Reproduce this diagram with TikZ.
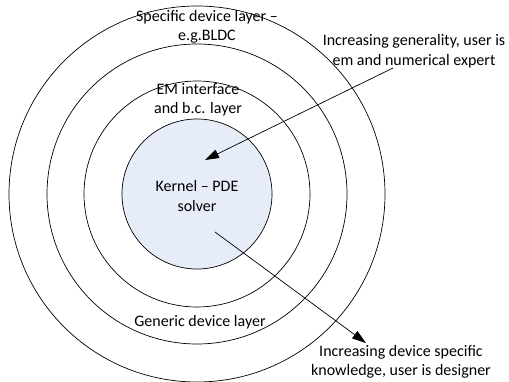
\documentclass[tikz,border=0pt]{standalone}
\usepackage{fontspec}
\setmainfont{Carlito}
\usetikzlibrary{arrows.meta}
\definecolor{kernelfill}{HTML}{E7EDF8}
\tikzset{
  ring/.style={circle, draw=black, line width=0.7pt, inner sep=0pt},
  lbl/.style={align=center, inner sep=0pt, font=\fontsize{16}{19.5}\selectfont},
  pointer/.style={draw=black, line width=0.7pt, -{Triangle[length=14pt,width=9pt]}}
}
\begin{document}
\begin{tikzpicture}[x=1pt,y=1pt]
\useasboundingbox (0,0) rectangle (509,-382);
\coordinate (ctr) at (197,-194);
\node[ring, minimum size=376pt] (r4) at (ctr) {};
\node[ring, minimum size=300pt] (r3) at (ctr) {};
\node[ring, minimum size=226pt] (r2) at (ctr) {};
\node[ring, fill=kernelfill, minimum size=150pt] (r1) at (ctr) {};

\node[lbl] (kernel) at (197,-196) {Kernel – PDE\\solver};
\node[lbl] (em) at (198,-100) {EM interface\\and b.c. layer};
\node[lbl] (spec) at (207,-27) {Specific device layer –\\e.g.BLDC};
\node[lbl] (gen) at (200,-322) {Generic device layer};
\node[lbl] (gen2) at (414,-51) {Increasing generality, user is\\em and numerical expert};
\node[lbl] (dev) at (401,-362) {Increasing device specific\\knowledge, user is designer};

\coordinate (a1s) at (393,-68);
\coordinate (a1e) at (205,-160);
\coordinate (a2s) at (215,-232);
\coordinate (a2e) at (366,-343);
\draw[pointer] (a1s) -- (a1e);
\draw[pointer] (a2s) -- (a2e);
\end{tikzpicture}
\end{document}
